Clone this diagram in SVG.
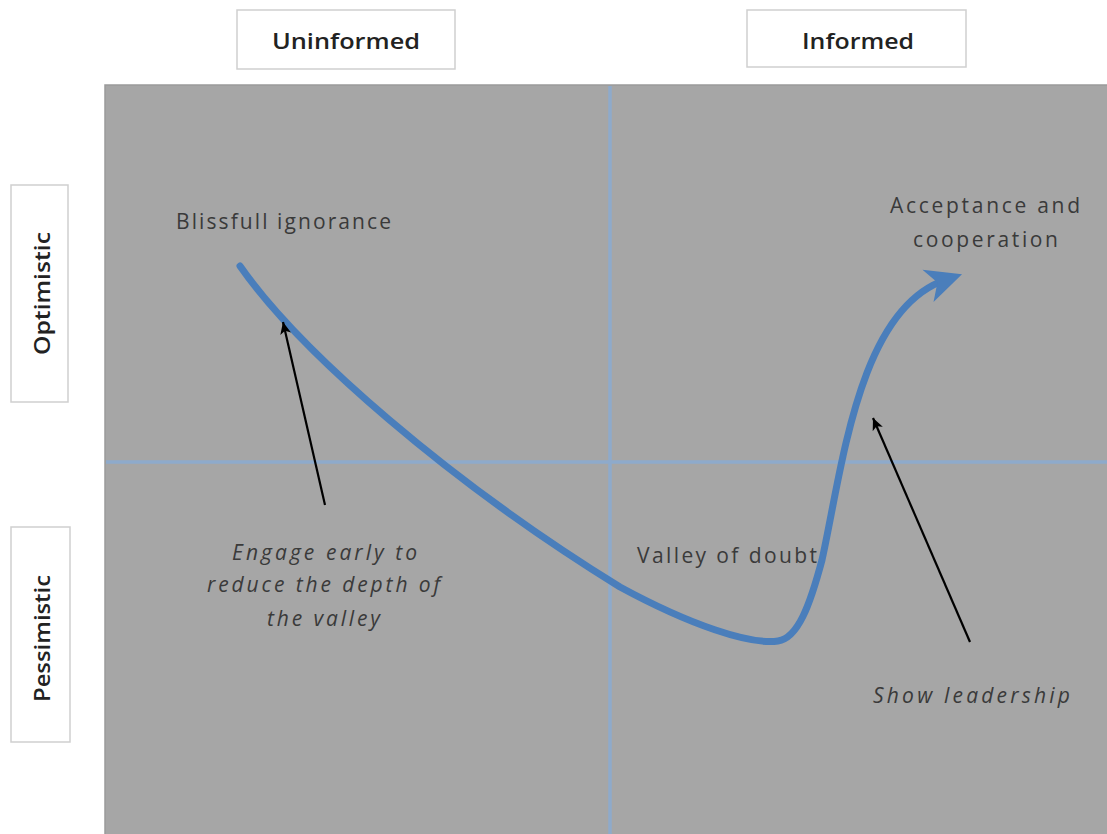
<svg xmlns="http://www.w3.org/2000/svg" width="1107" height="834" viewBox="0 0 1107 834">
  <style>
    .hdr { fill: #ffffff; stroke: #cfcfcf; stroke-width: 1.5; }
    .hdr-text { font-family: "Open Sans", "Noto Sans", sans-serif; font-size: 22px; font-weight: 600; fill: #222222; }
    .lbl { font-family: "Open Sans", "Noto Sans", sans-serif; font-size: 21px; fill: #3a3a3a; }
    .note { font-family: "Open Sans", "Noto Sans", sans-serif; font-size: 21px; font-style: italic; fill: #3a3a3a; }
    .divider { stroke: #8eaacb; stroke-width: 3.5; }
    .journey { fill: none; stroke: #4a7ebb; stroke-width: 7; stroke-linecap: round; }
    .pointer { fill: none; stroke: #000000; stroke-width: 2.2; }
  </style>
  <defs>
    <marker id="bigHead" viewBox="-36 -19 38 38" refX="-18" refY="0" markerWidth="38" markerHeight="38" markerUnits="userSpaceOnUse" orient="auto">
      <path d="M0,0 L-36,-17 L-26,0 L-36,17 Z" fill="#4a7ebb"/>
    </marker>
    <marker id="smallHead" viewBox="-12 -6 13 12" refX="0" refY="0" markerWidth="13" markerHeight="12" markerUnits="userSpaceOnUse" orient="auto">
      <path d="M0,0 L-12,-5.5 L-9,0 L-12,5.5 Z" fill="#000000"/>
    </marker>
  </defs>

  <rect width="1107" height="834" fill="#ffffff"/>

  <!-- quadrant panel -->
  <g id="panel">
    <rect x="105" y="85" width="1004" height="752" fill="#a6a6a6" stroke="#9a9a9a" stroke-width="1.5"/>
    <line class="divider" x1="610" y1="86" x2="610" y2="834"/>
    <line class="divider" x1="106" y1="462" x2="1107" y2="462"/>
  </g>

  <!-- axis headings -->
  <g id="uninformed">
    <rect class="hdr" x="237" y="10" width="218" height="59"/>
    <text class="hdr-text" x="272" y="49" textLength="148" lengthAdjust="spacingAndGlyphs">Uninformed</text>
  </g>
  <g id="informed">
    <rect class="hdr" x="747" y="10" width="219" height="57"/>
    <text class="hdr-text" x="802" y="49" textLength="112" lengthAdjust="spacingAndGlyphs">Informed</text>
  </g>
  <g id="optimistic">
    <rect class="hdr" x="11" y="185" width="57" height="217"/>
    <text class="hdr-text" transform="translate(50,355) rotate(-90)" x="0" y="0" textLength="123" lengthAdjust="spacingAndGlyphs">Optimistic</text>
  </g>
  <g id="pessimistic">
    <rect class="hdr" x="11" y="527" width="59" height="215"/>
    <text class="hdr-text" transform="translate(50,702) rotate(-90)" x="0" y="0" textLength="127" lengthAdjust="spacingAndGlyphs">Pessimistic</text>
  </g>

  <!-- stage labels -->
  <g id="blissful-ignorance">
    <text class="lbl" x="176" y="229" textLength="215" lengthAdjust="spacing">Blissfull ignorance</text>
  </g>
  <g id="acceptance">
    <text class="lbl" x="890" y="213" textLength="190" lengthAdjust="spacing">Acceptance and</text>
    <text class="lbl" x="913" y="247" textLength="145" lengthAdjust="spacing">cooperation</text>
  </g>
  <g id="valley">
    <text class="lbl" x="637" y="563" textLength="180" lengthAdjust="spacing">Valley of doubt</text>
  </g>
  <g id="engage-early">
    <text class="note" x="232" y="560" textLength="185" lengthAdjust="spacing">Engage early to</text>
    <text class="note" x="207" y="592" textLength="233" lengthAdjust="spacing">reduce the depth of</text>
    <text class="note" x="267" y="626" textLength="113" lengthAdjust="spacing">the valley</text>
  </g>
  <g id="show-leadership">
    <text class="note" x="873" y="703" textLength="197" lengthAdjust="spacing">Show leadership</text>
  </g>

  <!-- connectors -->
  <g id="connectors">
    <path class="journey" marker-end="url(#bigHead)" d="M240,266 C300,352 450,482 620,587 C690,625 750,645 778,641 C798,638 810,605 822,560 C842,470 858,310 945,280"/>
    <line class="pointer" marker-end="url(#smallHead)" x1="325" y1="505" x2="283" y2="322"/>
    <line class="pointer" marker-end="url(#smallHead)" x1="970" y1="642" x2="873" y2="418"/>
  </g>
</svg>
